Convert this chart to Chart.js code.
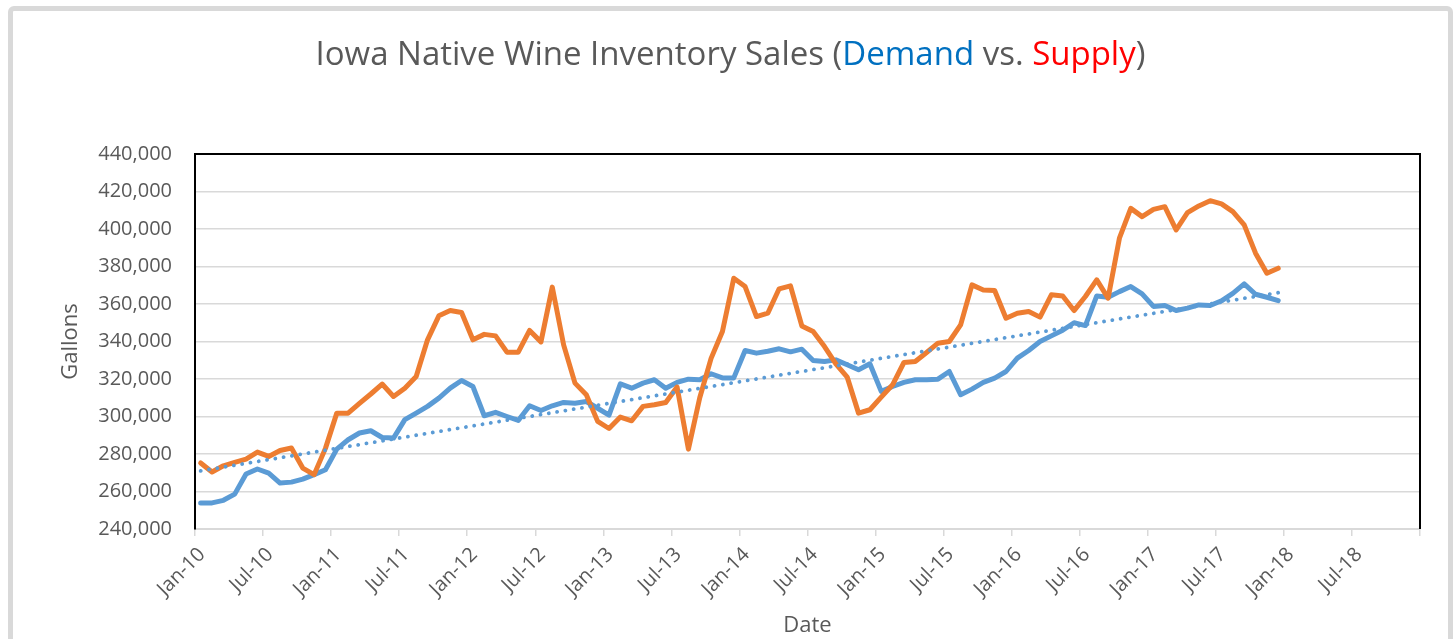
<!DOCTYPE html>
<html>
<head>
<meta charset="utf-8">
<script src="https://cdn.jsdelivr.net/npm/chart.js@4.4.1/dist/chart.umd.min.js"></script>
<style>
  html, body { margin: 0; padding: 0; background: #fff; width: 1456px; height: 639px; overflow: hidden; }
  #frame { position: absolute; left: 8px; top: 6px; width: 1435px; height: 700px; border: 5px solid #d9d9d9; border-radius: 6px; background: #fff; }
  #title { position: absolute; left: 13px; top: 30px; width: 1435px; text-align: center; font-family: "Open Sans", sans-serif; font-size: 33px; line-height: 46px; color: #595959; }
  #title .demand { color: #0070c0; }
  #title .supply { color: #ff0000; }
  #chart { position: absolute; left: 0; top: 0; }
</style>
</head>
<body>
<div id="frame"></div>
<canvas id="chart" width="1456" height="639"></canvas>
<div id="title">Iowa Native Wine Inventory Sales (<span class="demand">Demand</span> vs. <span class="supply">Supply</span>)</div>
<script>
// monthly values, Jan-10 .. Dec-17 (gallons)
const months = [];
const monNames = ["Jan", "Feb", "Mar", "Apr", "May", "Jun", "Jul", "Aug", "Sep", "Oct", "Nov", "Dec"];
for (let y = 10; y <= 17; y++) {
  monNames.forEach((m) => months.push(m + "-" + y));
}

const demand = [
  253900, 253900, 255300, 258600, 269300, 272000, 269800, 264500, 265000, 266600, 269000, 271600,
  282600, 287600, 291200, 292400, 288800, 288500, 298300, 301800, 305400, 309800, 315100, 319200,
  316000, 300400, 302200, 300000, 297900, 305700, 303200, 305700, 307500, 307100, 308000, 304400,
  300700, 317400, 315100, 317800, 319600, 315100, 318200, 319900, 319600, 322800, 320600, 320600,
  335200, 333800, 334800, 336100, 334500, 335900, 329900, 329300, 330200, 327600, 324900, 328100,
  313400, 316000, 318200, 319600, 319600, 319900, 324000, 311600, 314600, 318200, 320500, 324000,
  331100, 335200, 340000, 343000, 346000, 350000, 348500, 364300, 363600, 366600, 369300, 365400,
  358700, 359200, 356500, 357800, 359500, 359200, 361700, 365700, 370700, 365200, 363600, 361800
];

const supply = [
  275200, 270400, 273700, 275500, 277300, 281000, 278700, 281900, 283200, 272500, 269000, 283000,
  301800, 301800, 307000, 312000, 317300, 310700, 315100, 321300, 340900, 353700, 356500, 355500,
  340900, 343800, 343000, 334300, 334300, 345900, 339800, 369000, 338200, 317800, 311600, 297400,
  293600, 299700, 297700, 305400, 306300, 307500, 315700, 282600, 310000, 331000, 345300, 373700,
  369300, 353300, 355100, 368100, 369700, 348300, 345300, 337300, 328100, 321000, 301800, 303600,
  310300, 316900, 328800, 329300, 334100, 339100, 340000, 348900, 370200, 367500, 367200, 352400,
  355100, 356000, 353000, 364900, 364300, 356500, 364000, 372900, 363100, 395100, 411000, 406600,
  410500, 411900, 399500, 408700, 412300, 415100, 413400, 409300, 402200, 387100, 376400, 379100
];

// x axis tick labels, every 6 months from Jan-10 to Jan-19
const tickLabels = [
  "Jan-10", "Jul-10", "Jan-11", "Jul-11", "Jan-12", "Jul-12", "Jan-13", "Jul-13", "Jan-14", "Jul-14",
  "Jan-15", "Jul-15", "Jan-16", "Jul-16", "Jan-17", "Jul-17", "Jan-18", "Jul-18", ""
];

// points sit mid-month on the month axis
const toPoints = (arr) => arr.map((v, i) => ({ x: i + 0.5, y: v }));

// least squares trend of demand (Excel "Linear" trendline)
const linearTrend = (arr) => {
  const n = arr.length;
  let sx = 0, sy = 0, sxy = 0, sxx = 0;
  arr.forEach((v, i) => { sx += i; sy += v; sxy += i * v; sxx += i * i; });
  const b = (n * sxy - sx * sy) / (n * sxx - sx * sx);
  const a = (sy - b * sx) / n;
  return arr.map((v, i) => a + b * i);
};
const trend = linearTrend(demand);

const axisText = "#595959";
const gridColor = "#d9d9d9";

const plotBorder = {
  id: "plotBorder",
  afterDraw(chart) {
    const { ctx, chartArea: a } = chart;
    ctx.save();
    ctx.strokeStyle = "#000";
    ctx.lineWidth = 2;
    ctx.beginPath();
    ctx.moveTo(a.left, a.bottom);
    ctx.lineTo(a.left, a.top);
    ctx.lineTo(a.right, a.top);
    ctx.lineTo(a.right, a.bottom);
    ctx.stroke();
    ctx.restore();
  }
};

new Chart(document.getElementById("chart"), {
  type: "line",
  data: {
    datasets: [
      {
        label: "Linear (Demand)",
        data: toPoints(trend),
        borderColor: "#5b9bd5",
        borderWidth: 3.8,
        borderDash: [0.1, 8.3],
        borderCapStyle: "round",
        pointRadius: 0,
        fill: false,
        order: 0
      },
      {
        label: "Supply",
        data: toPoints(supply),
        borderColor: "#ed7d31",
        borderWidth: 5,
        borderJoinStyle: "round",
        borderCapStyle: "round",
        pointRadius: 0,
        tension: 0,
        fill: false,
        order: 1
      },
      {
        label: "Demand",
        data: toPoints(demand),
        borderColor: "#5b9bd5",
        borderWidth: 5,
        borderJoinStyle: "round",
        borderCapStyle: "round",
        pointRadius: 0,
        tension: 0,
        fill: false,
        order: 2
      }
    ]
  },
  options: {
    responsive: false,
    animation: false,
    events: [],
    layout: { padding: { left: 58, right: 36, top: 154, bottom: 0 } },
    plugins: {
      legend: { display: false },
      title: { display: false },
      tooltip: { enabled: false }
    },
    scales: {
      x: {
        type: "linear",
        min: 0,
        max: 108,
        ticks: {
          stepSize: 6,
          autoSkip: false,
          minRotation: 45,
          maxRotation: 45,
          padding: 7,
          labelOffset: 7,
          color: axisText,
          font: { family: "Open Sans", size: 20 },
          callback: (v) => tickLabels[Math.round(v / 6)]
        },
        grid: { drawOnChartArea: false, drawTicks: true, tickLength: 7, color: gridColor, lineWidth: 1.5 },
        border: { color: gridColor, width: 2 },
        title: {
          display: true,
          text: "Date",
          color: axisText,
          font: { family: "Open Sans", size: 22 },
          padding: 0
        },
        afterFit: (s) => { s.height = 110; }
      },
      y: {
        min: 240000,
        max: 440000,
        ticks: {
          stepSize: 20000,
          padding: 23,
          color: axisText,
          font: { family: "Open Sans", size: 20 },
          callback: (v) => v.toLocaleString("en-US")
        },
        grid: { color: gridColor, lineWidth: 1.5, drawTicks: false },
        border: { color: "#000", width: 2 },
        title: {
          display: true,
          text: "Gallons",
          color: axisText,
          font: { family: "Open Sans", size: 22 },
          padding: 0
        },
        afterFit: (s) => { s.width = 195 - 58; }
      }
    }
  },
  plugins: [plotBorder]
});
</script>
</body>
</html>
